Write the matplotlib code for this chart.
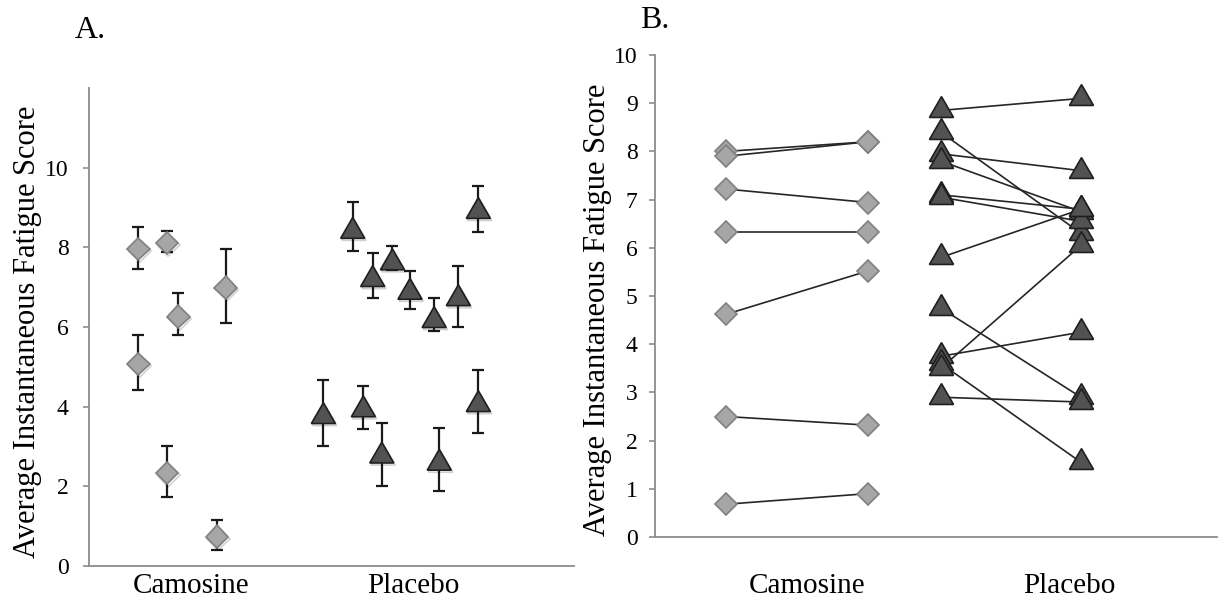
import matplotlib
matplotlib.use("Agg")
import matplotlib.pyplot as plt
import matplotlib.patheffects as pe

plt.rcParams['font.family'] = ['Liberation Serif', 'DejaVu Serif']

# Panel A: per-participant mean with error bars (x is jittered position)
carn_x = [0.763, 0.763, 0.891, 0.891, 0.943, 1.116, 1.156]
carn_mean = [7.96, 5.07, 8.11, 2.33, 6.26, 0.74, 6.99]
carn_lo = [7.45, 4.42, 7.87, 1.74, 5.80, 0.40, 6.09]
carn_hi = [8.51, 5.80, 8.40, 3.00, 6.86, 1.16, 7.96]

plac_x = [1.596, 1.728, 1.776, 1.818, 1.859, 1.907, 1.986, 2.095, 2.118, 2.204, 2.294, 2.294]
plac_mean = [3.75, 8.40, 3.92, 7.19, 2.76, 7.61, 6.87, 6.16, 2.58, 6.71, 8.90, 4.05]
plac_lo = [3.02, 7.91, 3.43, 6.73, 2.02, 7.44, 6.45, 5.89, 1.88, 6.01, 8.38, 3.33]
plac_hi = [4.66, 9.14, 4.52, 7.86, 3.60, 8.04, 7.40, 6.73, 3.47, 7.54, 9.55, 4.92]

groups = ['Camosine', 'Placebo']

# Panel B: first vs second value for each participant
carn_pair_x = [0.691, 1.233]
carn_first = [8.0, 7.9, 7.22, 6.33, 4.62, 2.50, 0.68]
carn_second = [8.2, 8.2, 6.94, 6.33, 5.52, 2.32, 0.90]

plac_pair_x = [1.511, 2.046]
plac_first = [8.85, 8.4, 7.95, 7.8, 7.1, 7.05, 5.8, 4.75, 3.75, 3.6, 3.5, 2.9]
plac_second = [9.1, 6.3, 7.6, 6.75, 6.8, 6.55, 6.8, 2.9, 4.25, 1.55, 6.05, 2.8]

diamond_face = '#a6a6a6'
diamond_edge = '#808080'
tri_face = '#525252'
tri_edge = '#1f1f1f'
axis_grey = '#8c8c8c'

fig = plt.figure(figsize=(12.19, 6.0), dpi=100)

def style_axis(ax):
    # Excel-like axes: only left and bottom lines in grey
    for side in ['top', 'right']:
        ax.spines[side].set_visible(False)
    for side in ['left', 'bottom']:
        ax.spines[side].set_color(axis_grey)
        ax.spines[side].set_linewidth(1.3)
    ax.tick_params(axis='y', direction='out', length=4.5, width=1.2,
                   color=axis_grey, labelsize=17)
    ax.tick_params(axis='x', length=0, labelsize=21)

# soft shadow under the panel A markers
shadow = [pe.SimpleLineShadow(offset=(1, -1.5), alpha=0.18, shadow_color='black'), pe.Normal()]

# ---- Panel A ----
axA = fig.add_axes([0.0730, 0.0567, 0.3979, 0.7967])
style_axis(axA)
axA.errorbar(carn_x, carn_mean,
             yerr=[[m - l for m, l in zip(carn_mean, carn_lo)],
                   [h - m for m, h in zip(carn_mean, carn_hi)]],
             fmt='none', ecolor='#1a1a1a', elinewidth=1.6, capsize=4.5, capthick=1.6, zorder=2)
axA.errorbar(plac_x, plac_mean,
             yerr=[[m - l for m, l in zip(plac_mean, plac_lo)],
                   [h - m for m, h in zip(plac_mean, plac_hi)]],
             fmt='none', ecolor='#1a1a1a', elinewidth=1.6, capsize=4.5, capthick=1.6, zorder=2)
axA.plot(carn_x, carn_mean, linestyle='none', marker='D', ms=11.5, mfc=diamond_face,
         mec=diamond_edge, mew=1.2, zorder=3, path_effects=shadow)
axA.plot(plac_x, plac_mean, linestyle='none', marker=(3, 0, 0), ms=20, mfc=tri_face,
         mec=tri_edge, mew=1.2, zorder=3, path_effects=shadow)
axA.set_xlim(0.54, 2.725)
axA.set_ylim(0, 12)
axA.set_yticks([0, 2, 4, 6, 8, 10])
axA.set_xticks([1, 2])
axA.set_xticklabels(groups)
axA.tick_params(axis='x', pad=5)
axA.tick_params(axis='y', pad=10)
axA.set_ylabel('Average Instantaneous Fatigue Score', fontsize=22)
axA.yaxis.set_label_coords(-0.097, 0.49)

# ---- Panel B ----
axB = fig.add_axes([0.5373, 0.105, 0.461, 0.8033])
style_axis(axB)
for a, b in zip(carn_first, carn_second):
    axB.plot(carn_pair_x, [a, b], color='#262626', lw=1.2, zorder=2)
for a, b in zip(plac_first, plac_second):
    axB.plot(plac_pair_x, [a, b], color='#262626', lw=1.2, zorder=2)
axB.plot([carn_pair_x[0]] * len(carn_first), carn_first, linestyle='none', marker='D', ms=11,
         mfc=diamond_face, mec=diamond_edge, mew=1.2, zorder=3)
axB.plot([carn_pair_x[1]] * len(carn_second), carn_second, linestyle='none', marker='D', ms=11,
         mfc=diamond_face, mec=diamond_edge, mew=1.2, zorder=3)
axB.plot([plac_pair_x[0]] * len(plac_first), plac_first, linestyle='none', marker=(3, 0, 0), ms=20,
         mfc=tri_face, mec=tri_edge, mew=1.2, zorder=3)
axB.plot([plac_pair_x[1]] * len(plac_second), plac_second, linestyle='none', marker=(3, 0, 0), ms=20,
         mfc=tri_face, mec=tri_edge, mew=1.2, zorder=3)
axB.set_xlim(0.42, 2.565)
axB.set_ylim(0, 10)
axB.set_yticks(range(0, 11))
axB.set_xticks([1, 2])
axB.set_xticklabels(groups)
axB.tick_params(axis='x', pad=26)
axB.tick_params(axis='y', pad=8)
axB.set_ylabel('Average Instantaneous Fatigue Score', fontsize=22)
axB.yaxis.set_label_coords(-0.077, 0.471)

# panel letters
fig.text(75 / 1219, 1 - 30 / 600, 'A.', fontsize=23, ha='left', va='center')
fig.text(640 / 1219, 1 - 21 / 600, 'B.', fontsize=23, ha='left', va='center')

fig.savefig('out.png', dpi=100)
